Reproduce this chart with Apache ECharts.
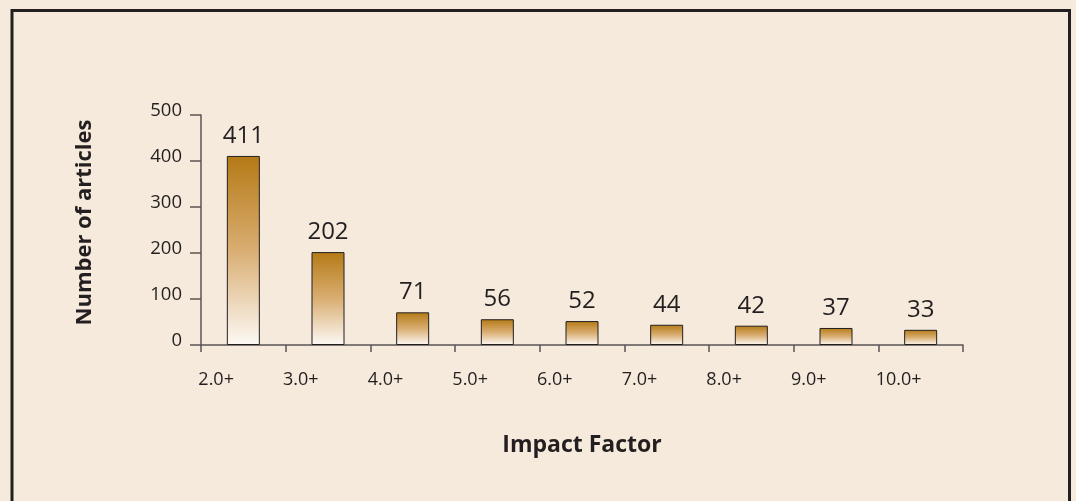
<!DOCTYPE html>
<html>
<head>
<meta charset="utf-8">
<script src="https://cdn.jsdelivr.net/npm/echarts@6/dist/echarts.min.js"></script>
<style>
html,body{margin:0;padding:0;background:#f5eadb;}
#chart{width:1076px;height:501px;}
</style>
</head>
<body>
<div id="chart"></div>
<script>
var categories = ['2.0+', '3.0+', '4.0+', '5.0+', '6.0+', '7.0+', '8.0+', '9.0+', '10.0+'];
var articleCounts = [411, 202, 71, 56, 52, 44, 42, 37, 33];
var yMin = 0, yMax = 500, yStep = 100;
var xTitle = 'Impact Factor';
var yTitle = 'Number of articles';

var FONT = '"Open Sans", "Noto Sans", sans-serif';
var INK = '#231f20';
var AXIS = '#5b5455';

var chart = echarts.init(document.getElementById('chart'), null, {renderer: 'canvas'});
chart.setOption({
  backgroundColor: '#f5eadb',
  animation: false,
  textStyle: {fontFamily: FONT, color: INK},
  graphic: [{
    type: 'rect',
    shape: {x: 12, y: 10.5, width: 1057.5, height: 600},
    style: {fill: 'none', stroke: INK, lineWidth: 3},
    silent: true
  }],
  grid: {left: 201, right: 113, top: 115, bottom: 156, containLabel: false},
  xAxis: {
    type: 'category',
    data: categories,
    boundaryGap: true,
    name: xTitle,
    nameLocation: 'middle',
    nameGap: 89,
    nameTextStyle: {fontFamily: FONT, fontWeight: 'bold', fontSize: 23, color: INK},
    axisLine: {show: true, lineStyle: {color: AXIS, width: 1.5}},
    axisTick: {show: true, inside: false, length: 7, lineStyle: {color: AXIS, width: 1.5}},
    axisLabel: {
      interval: 0,
      margin: 26,
      fontFamily: FONT,
      fontSize: 18,
      color: INK,
      align: 'center',
      formatter: function (v) { return '{a|' + v + '}'; },
      rich: {a: {width: 90, align: 'left', fontFamily: FONT, fontSize: 18, color: INK}}
    },
    splitLine: {show: false}
  },
  yAxis: {
    type: 'value',
    min: yMin,
    max: yMax,
    interval: yStep,
    name: yTitle,
    nameLocation: 'middle',
    nameGap: 105,
    nameRotate: 90,
    nameTextStyle: {fontFamily: FONT, fontWeight: 'bold', fontSize: 22, color: INK, padding: [0, 0, 0, 15]},
    axisLine: {show: true, lineStyle: {color: AXIS, width: 1.5}},
    axisTick: {show: true, inside: false, length: 11, lineStyle: {color: AXIS, width: 1.5}},
    axisLabel: {margin: 19, fontFamily: FONT, fontSize: 18.5, color: INK, verticalAlign: 'bottom', lineHeight: 9},
    splitLine: {show: false}
  },
  series: [{
    type: 'bar',
    data: articleCounts,
    barWidth: 33,
    itemStyle: {
      color: new echarts.graphic.LinearGradient(0, 0, 0, 1, [
        {offset: 0, color: '#b57a16'},
        {offset: 0.5, color: '#d9ae72'},
        {offset: 1, color: '#fdf9f5'}
      ]),
      borderColor: INK,
      borderWidth: 1
    },
    label: {
      show: true,
      position: 'top',
      distance: 8,
      fontFamily: FONT,
      fontSize: 24,
      color: INK
    }
  }]
});
</script>
</body>
</html>
